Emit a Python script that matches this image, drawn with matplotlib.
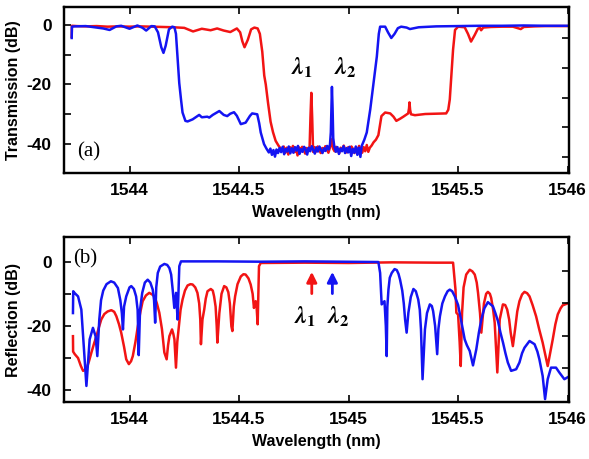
import matplotlib
matplotlib.use('Agg')
import matplotlib.pyplot as plt

# --- data ---
# (a) transmission, red
t_red_wl = [1543.736, 1543.737, 1543.76, 1543.80, 1543.85, 1543.90, 1543.95, 1544.00, 1544.05, 1544.10,
            1544.15, 1544.20, 1544.25, 1544.29, 1544.33, 1544.37, 1544.40, 1544.43, 1544.46, 1544.49,
            1544.505, 1544.515, 1544.525, 1544.54, 1544.555, 1544.57, 1544.585, 1544.595, 1544.606, 1544.615,
            1544.622, 1544.632, 1544.644, 1544.655, 1544.667, 1544.68, 1544.69,
            1544.697, 1544.704, 1544.711, 1544.718, 1544.725, 1544.732, 1544.739, 1544.746, 1544.753, 1544.760,
            1544.767, 1544.774, 1544.781, 1544.788, 1544.795, 1544.802, 1544.809, 1544.816, 1544.822, 1544.826,
            1544.830, 1544.834, 1544.838, 1544.845, 1544.852, 1544.859, 1544.866, 1544.873, 1544.880, 1544.887,
            1544.894, 1544.901, 1544.908, 1544.915, 1544.921, 1544.925, 1544.929, 1544.936, 1544.943, 1544.950,
            1544.957, 1544.964, 1544.971, 1544.978, 1544.985, 1544.992, 1544.999, 1545.006, 1545.013, 1545.020,
            1545.027, 1545.034, 1545.041, 1545.048, 1545.055, 1545.062, 1545.069, 1545.076, 1545.083, 1545.090,
            1545.097, 1545.105, 1545.114, 1545.125, 1545.136, 1545.145, 1545.15, 1545.167, 1545.19, 1545.205,
            1545.218, 1545.235, 1545.25, 1545.272, 1545.276, 1545.278, 1545.281, 1545.285, 1545.303, 1545.35,
            1545.40, 1545.4455, 1545.455, 1545.462, 1545.47, 1545.477, 1545.486, 1545.50, 1545.53, 1545.545,
            1545.559, 1545.575, 1545.59, 1545.60, 1545.605, 1545.615, 1545.65, 1545.70, 1545.75, 1545.786,
            1545.80, 1545.85, 1545.90, 1546.0]
t_red_db = [-4.0, -0.3, -0.4, -0.5, -0.4, -0.6, -0.5, -0.6, -0.5, -0.6,
            -0.7, -0.8, -1.0, -2.2, -1.3, -1.8, -1.2, -1.9, -2.4, -1.2,
            -2.5, -5.5, -7.5, -5.0, -1.5, -0.9, -1.2, -3.0, -9.0, -17.0,
            -20.0, -26.0, -32.5, -36.0, -38.9, -40.5, -41.5,
            -42.3, -40.8, -42.9, -41.2, -43.5, -41.0, -42.1, -40.6, -42.7, -41.4,
            -43.8, -41.1, -42.4, -40.9, -41.8, -43.2, -41.3, -42.0, -41.2, -31.0,
            -22.8, -31.5, -42.6, -41.0, -42.5, -40.8, -41.9, -43.0, -41.3, -42.2,
            -40.7, -41.7, -42.9, -41.1, -40.2, -38.3, -41.5, -42.4, -40.9, -41.8,
            -43.1, -41.2, -42.0, -40.5, -41.9, -42.8, -41.0, -42.3, -40.8, -41.6,
            -43.0, -41.2, -42.1, -40.6, -41.8, -42.9, -41.0, -42.4, -40.3, -42.6,
            -41.2, -40.5, -39.4, -38.5, -37.0, -33.0, -30.6, -29.4, -29.7, -30.8,
            -32.2, -31.5, -30.8, -29.7, -28.0, -26.0, -28.5, -30.0, -30.3, -29.9,
            -29.8, -29.7, -28.5, -25.0, -16.0, -8.3, -1.7, -0.6, -0.8, -3.0,
            -5.6, -3.5, -1.3, -1.0, -1.8, -0.9, -0.7, -0.6, -0.6, -1.4,
            -0.7, -0.5, -0.4, -0.4]

# (a) transmission, blue
t_blue_wl = [1543.736, 1543.737, 1543.75, 1543.80, 1543.85, 1543.88, 1543.909, 1543.94, 1543.962, 1544.00,
             1544.036, 1544.06, 1544.076, 1544.10, 1544.115, 1544.13, 1544.145, 1544.155, 1544.165, 1544.18,
             1544.195, 1544.205, 1544.212, 1544.22, 1544.227, 1544.235, 1544.242, 1544.255, 1544.265, 1544.288,
             1544.318, 1544.33, 1544.355, 1544.364, 1544.38, 1544.41, 1544.43, 1544.446, 1544.46, 1544.477,
             1544.49, 1544.508, 1544.53, 1544.55, 1544.56, 1544.583, 1544.592, 1544.599, 1544.614, 1544.625,
             1544.636, 1544.643, 1544.650, 1544.657, 1544.664, 1544.671, 1544.678, 1544.685, 1544.692, 1544.699,
             1544.706, 1544.713, 1544.720, 1544.727, 1544.734, 1544.741, 1544.748, 1544.755, 1544.762, 1544.769,
             1544.776, 1544.783, 1544.790, 1544.797, 1544.804, 1544.811, 1544.818, 1544.825, 1544.832, 1544.839,
             1544.846, 1544.853, 1544.860, 1544.867, 1544.874, 1544.881, 1544.888, 1544.895, 1544.902, 1544.909,
             1544.915, 1544.919, 1544.922, 1544.924, 1544.927, 1544.930, 1544.935, 1544.942, 1544.949, 1544.956,
             1544.963, 1544.970, 1544.977, 1544.984, 1544.991, 1544.998, 1545.005, 1545.012, 1545.019, 1545.026,
             1545.033, 1545.040, 1545.047, 1545.054, 1545.060, 1545.072, 1545.083, 1545.099, 1545.114, 1545.129,
             1545.138, 1545.144, 1545.167, 1545.18, 1545.195, 1545.21, 1545.225, 1545.24, 1545.265, 1545.28,
             1545.32, 1545.40, 1545.50, 1545.60, 1545.70, 1545.80, 1545.90, 1546.0]
t_blue_db = [-4.4, -0.6, -0.5, -0.4, -0.9, -1.2, -1.7, -0.5, -0.3, -1.3,
             -0.2, -1.0, -1.9, -0.4, -0.5, -2.5, -7.5, -9.4, -7.0, -1.5,
             -0.6, -0.8, -3.0, -12.0, -19.5, -25.0, -29.4, -32.2, -32.4, -31.7,
             -30.2, -31.0, -30.8, -31.1, -30.2, -28.9, -30.2, -30.6, -29.8, -29.3,
             -30.5, -33.3, -32.8, -30.5, -29.7, -30.0, -33.0, -36.1, -40.0, -41.5,
             -42.8, -41.5, -43.6, -42.0, -44.2, -41.8, -43.0, -41.3, -42.7, -40.9,
             -43.4, -41.6, -42.5, -40.8, -43.1, -41.4, -42.9, -41.0, -42.2, -40.6,
             -43.3, -41.7, -42.6, -40.9, -41.8, -43.5, -41.2, -42.4, -40.7, -42.0,
             -43.2, -41.1, -42.5, -40.8, -41.9, -43.0, -41.4, -42.3, -40.6, -41.8,
             -40.2, -36.0, -26.0, -20.8, -28.0, -38.0, -40.9, -42.6, -41.0, -43.3,
             -41.5, -42.4, -40.7, -43.0, -41.3, -42.8, -40.9, -44.0, -41.6, -42.9,
             -40.8, -43.6, -41.2, -44.3, -40.6, -38.5, -36.1, -28.3, -19.4, -10.6,
             -3.0, -0.6, -0.6, -2.5, -4.4, -3.0, -1.1, -0.6, -0.9, -1.4,
             -0.8, -0.5, -0.4, -0.3, -0.3, -0.2, -0.3, -0.3]

# (b) reflection, red
r_red_wl = [1543.7418, 1543.7425, 1543.750, 1543.765, 1543.778, 1543.788, 1543.803, 1543.815, 1543.826, 1543.838,
            1543.849, 1543.860, 1543.871, 1543.885, 1543.900, 1543.917, 1543.930, 1543.940, 1543.952, 1543.962,
            1543.975, 1543.985, 1543.997, 1544.007, 1544.015, 1544.027, 1544.038, 1544.050, 1544.060, 1544.075,
            1544.090, 1544.103, 1544.114, 1544.125, 1544.136, 1544.148, 1544.159, 1544.1695, 1544.176, 1544.182,
            1544.194, 1544.200, 1544.205, 1544.212, 1544.218, 1544.224, 1544.233, 1544.242, 1544.253, 1544.265,
            1544.278, 1544.288, 1544.300, 1544.310, 1544.318, 1544.323, 1544.326, 1544.333, 1544.341, 1544.348,
            1544.356, 1544.371, 1544.380, 1544.386, 1544.393, 1544.398, 1544.401, 1544.410, 1544.420, 1544.432,
            1544.442, 1544.451, 1544.458, 1544.465, 1544.4695, 1544.476, 1544.482, 1544.493, 1544.508, 1544.520,
            1544.530, 1544.543, 1544.553, 1544.562, 1544.568, 1544.576, 1544.580, 1544.585, 1544.591, 1544.599,
            1544.80, 1545.00, 1545.20, 1545.40, 1545.477, 1545.488, 1545.492, 1545.500, 1545.507, 1545.512,
            1545.518, 1545.525, 1545.537, 1545.553, 1545.565, 1545.576, 1545.585, 1545.591, 1545.600, 1545.606,
            1545.618, 1545.628, 1545.636, 1545.645, 1545.651, 1545.660, 1545.667, 1545.679, 1545.690, 1545.7045,
            1545.715, 1545.724, 1545.733, 1545.740, 1545.750, 1545.760, 1545.770, 1545.780, 1545.792, 1545.803,
            1545.815, 1545.826, 1545.840, 1545.856, 1545.870, 1545.886, 1545.898, 1545.909, 1545.920, 1545.932,
            1545.944, 1545.955, 1545.968, 1545.977, 1545.988, 1546.0]
r_red_db = [-23.2, -28.0, -28.8, -30.0, -32.5, -34.0, -33.5, -31.0, -28.3, -25.5,
            -23.2, -20.5, -18.0, -16.3, -15.5, -15.1, -15.6, -17.0, -19.5, -22.1,
            -26.5, -30.4, -31.9, -31.0, -29.4, -25.0, -20.1, -15.5, -12.3, -10.5,
            -9.7, -10.2, -10.8, -13.0, -15.9, -21.0, -28.3, -30.4, -26.0, -23.2,
            -21.1, -22.5, -24.2, -33.0, -25.0, -21.1, -15.0, -11.8, -9.0, -7.4,
            -7.0, -7.1, -8.0, -9.7, -13.0, -18.0, -25.7, -18.0, -14.9, -11.5,
            -9.2, -8.5, -9.0, -10.8, -14.0, -20.0, -25.2, -16.0, -10.0, -7.6,
            -8.0, -9.5, -13.0, -20.1, -21.6, -14.0, -10.8, -7.0, -4.6, -3.9,
            -4.0, -5.2, -7.1, -10.0, -14.4, -12.3, -14.0, -19.5, -1.4, -0.4,
            -0.3, -0.4, -0.2, -0.3, -0.3, -8.7, -15.9, -16.5, -25.0, -32.5,
            -16.0, -8.0, -4.0, -2.5, -3.0, -4.0, -6.5, -9.7, -16.0, -22.1,
            -13.0, -10.0, -9.4, -10.0, -11.3, -15.0, -19.0, -34.5, -18.0, -13.3,
            -13.5, -14.9, -18.0, -22.1, -26.3, -21.1, -15.5, -12.3, -10.2, -9.4,
            -9.8, -10.8, -13.5, -17.0, -21.0, -25.2, -29.0, -32.5, -28.5, -24.2,
            -19.5, -16.4, -14.5, -13.6, -13.3, -13.0]

# (b) reflection, blue
r_blue_wl = [1543.7418, 1543.7430, 1543.750, 1543.765, 1543.780, 1543.790, 1543.8032, 1543.812, 1543.818, 1543.833,
             1543.845, 1543.853, 1543.862, 1543.870, 1543.880, 1543.895, 1543.915, 1543.930, 1543.947, 1543.958,
             1543.965, 1543.970, 1543.975, 1543.985, 1544.000, 1544.008, 1544.020, 1544.030, 1544.037, 1544.042,
             1544.048, 1544.058, 1544.070, 1544.083, 1544.095, 1544.106, 1544.112, 1544.117, 1544.122, 1544.129,
             1544.140, 1544.159, 1544.172, 1544.182, 1544.190, 1544.197, 1544.2045, 1544.2123, 1544.2195, 1544.2273,
             1544.235, 1544.40, 1544.60, 1544.80, 1545.00, 1545.136, 1545.144, 1545.151, 1545.164, 1545.170,
             1545.174, 1545.177, 1545.182, 1545.188, 1545.197, 1545.210, 1545.220, 1545.228, 1545.235, 1545.245,
             1545.252, 1545.258, 1545.265, 1545.273, 1545.284, 1545.296, 1545.307, 1545.318, 1545.325, 1545.3305,
             1545.3377, 1545.3486, 1545.358, 1545.371, 1545.380, 1545.386, 1545.395, 1545.4045, 1545.410, 1545.417,
             1545.428, 1545.440, 1545.452, 1545.462, 1545.473, 1545.485, 1545.500, 1545.513, 1545.530, 1545.540,
             1545.553, 1545.568, 1545.575, 1545.583, 1545.595, 1545.606, 1545.620, 1545.636, 1545.659, 1545.670,
             1545.682, 1545.693, 1545.705, 1545.716, 1545.727, 1545.742, 1545.765, 1545.780, 1545.792, 1545.803,
             1545.826, 1545.849, 1545.862, 1545.871, 1545.886, 1545.897, 1545.909, 1545.924, 1545.947, 1545.962,
             1545.985, 1546.0]
r_blue_db = [-16.0, -9.2, -9.8, -10.8, -14.9, -25.0, -38.7, -30.0, -24.2, -20.6,
             -23.2, -29.4, -18.0, -12.0, -9.0, -7.0, -6.1, -6.5, -8.2, -12.0,
             -16.0, -21.1, -14.0, -10.8, -8.0, -7.6, -8.5, -10.8, -15.0, -29.1,
             -15.0, -9.7, -6.5, -5.6, -6.5, -8.7, -12.0, -19.0, -8.0, -3.5,
             -1.5, -0.7, -1.0, -2.0, -4.0, -8.7, -14.4, -9.7, -18.0, -1.4,
             0.1, 0.1, 0.0, 0.1, 0.0, -0.1, -3.5, -13.3, -12.3, -20.0,
             -29.4, -14.0, -8.7, -5.0, -3.5, -2.3, -2.6, -3.8, -5.6, -9.0,
             -13.0, -18.0, -22.1, -15.9, -11.0, -8.5, -9.2, -11.8, -15.0, -21.1,
             -36.6, -21.1, -16.0, -13.3, -13.8, -15.4, -20.0, -28.8, -21.0, -17.0,
             -13.0, -10.8, -9.2, -8.7, -9.2, -10.8, -13.5, -18.0, -24.2, -26.0,
             -27.8, -32.3, -30.0, -27.3, -22.0, -18.0, -14.5, -12.6, -13.9, -16.0,
             -18.5, -22.0, -25.2, -28.5, -31.4, -34.0, -33.5, -31.4, -28.5, -26.8,
             -24.7, -25.7, -28.0, -30.4, -35.6, -42.8, -36.6, -33.0, -33.0, -34.5,
             -36.6, -36.0]

x_ticks = [1544, 1544.5, 1545, 1545.5, 1546]
x_tick_labels = ['1544', '1544.5', '1545', '1545.5', '1546']
y_ticks = [-40, -30, -20, -10, 0]
y_tick_labels = ['-40', '', '-20', '', '0']

RED = '#f21414'
BLUE = '#1414f2'

plt.rcParams['font.family'] = ['Liberation Sans', 'DejaVu Sans']
plt.rcParams['font.weight'] = 'bold'
plt.rcParams['axes.unicode_minus'] = False
plt.rcParams['mathtext.fontset'] = 'stix'

fig = plt.figure(figsize=(5.89, 4.59), dpi=100)
ax_a = fig.add_axes([0.1087, 0.6224, 0.858, 0.3617])
ax_b = fig.add_axes([0.1087, 0.1235, 0.858, 0.3595])


def style_axes(ax, ylim, right_ticks, ylabel):
    ax.set_xlim(1543.701, 1546.008)
    ax.set_ylim(*ylim)
    ax.set_xticks(x_ticks)
    ax.set_xticklabels(x_tick_labels)
    ax.set_yticks(y_ticks)
    ax.set_yticklabels(y_tick_labels)
    ax.tick_params(direction='in', length=5, width=1.2, top=True, right=False,
                   labelsize=12.5, pad=9)
    ax.tick_params(axis='x', pad=7)
    for s in ax.spines.values():
        s.set_linewidth(1.6)
    ax.set_xlabel('Wavelength (nm)', fontsize=11.5, fontweight='bold', labelpad=5)
    ax.set_ylabel(ylabel, fontsize=11.5, fontweight='bold', labelpad=4)
    # the right-hand ticks in the original sit a little off the left ones
    ax2 = ax.twinx()
    ax2.set_ylim(*ylim)
    ax2.set_yticks(right_ticks)
    ax2.tick_params(direction='in', length=5, width=1.2, labelright=False)
    for s in ax2.spines.values():
        s.set_linewidth(1.6)


# --- (a) transmission ---
ax_a.plot(t_red_wl, t_red_db, color=RED, lw=1.8)
ax_a.plot(t_blue_wl, t_blue_db, color=BLUE, lw=1.8)
style_axes(ax_a, (-49.8, 5.9), [-4.4, -14.4, -24.4, -34.4, -44.4], 'Transmission (dB)')
ax_a.text(0.025, 0.128, '(a)', transform=ax_a.transAxes, fontsize=15,
          family='Liberation Serif', fontweight='normal', ha='left', va='center')
ax_a.text(1544.785, -14.5, r'$\lambda_1$', fontsize=17, fontweight='normal', ha='center', va='center')
ax_a.text(1544.985, -14.5, r'$\lambda_2$', fontsize=17, fontweight='normal', ha='center', va='center')

# --- (b) reflection ---
ax_b.plot(r_red_wl, r_red_db, color=RED, lw=1.8)
ax_b.plot(r_blue_wl, r_blue_db, color=BLUE, lw=1.8)
style_axes(ax_b, (-43.8, 7.6), [-3, -13, -23, -33], 'Reflection (dB)')
ax_b.text(0.018, 0.868, '(b)', transform=ax_b.transAxes, fontsize=15,
          family='Liberation Serif', fontweight='normal', ha='left', va='center')
ax_b.annotate('', xy=(1544.832, -2.3), xytext=(1544.832, -10.8),
              arrowprops=dict(arrowstyle='-|>,head_width=0.3,head_length=0.6', color=RED, lw=2))
ax_b.annotate('', xy=(1544.926, -2.3), xytext=(1544.926, -10.8),
              arrowprops=dict(arrowstyle='-|>,head_width=0.3,head_length=0.6', color=BLUE, lw=2))
ax_b.text(1544.80, -17.1, r'$\lambda_1$', fontsize=17, fontweight='normal', ha='center', va='center')
ax_b.text(1544.95, -17.1, r'$\lambda_2$', fontsize=17, fontweight='normal', ha='center', va='center')

fig.savefig('out.png', dpi=100)
